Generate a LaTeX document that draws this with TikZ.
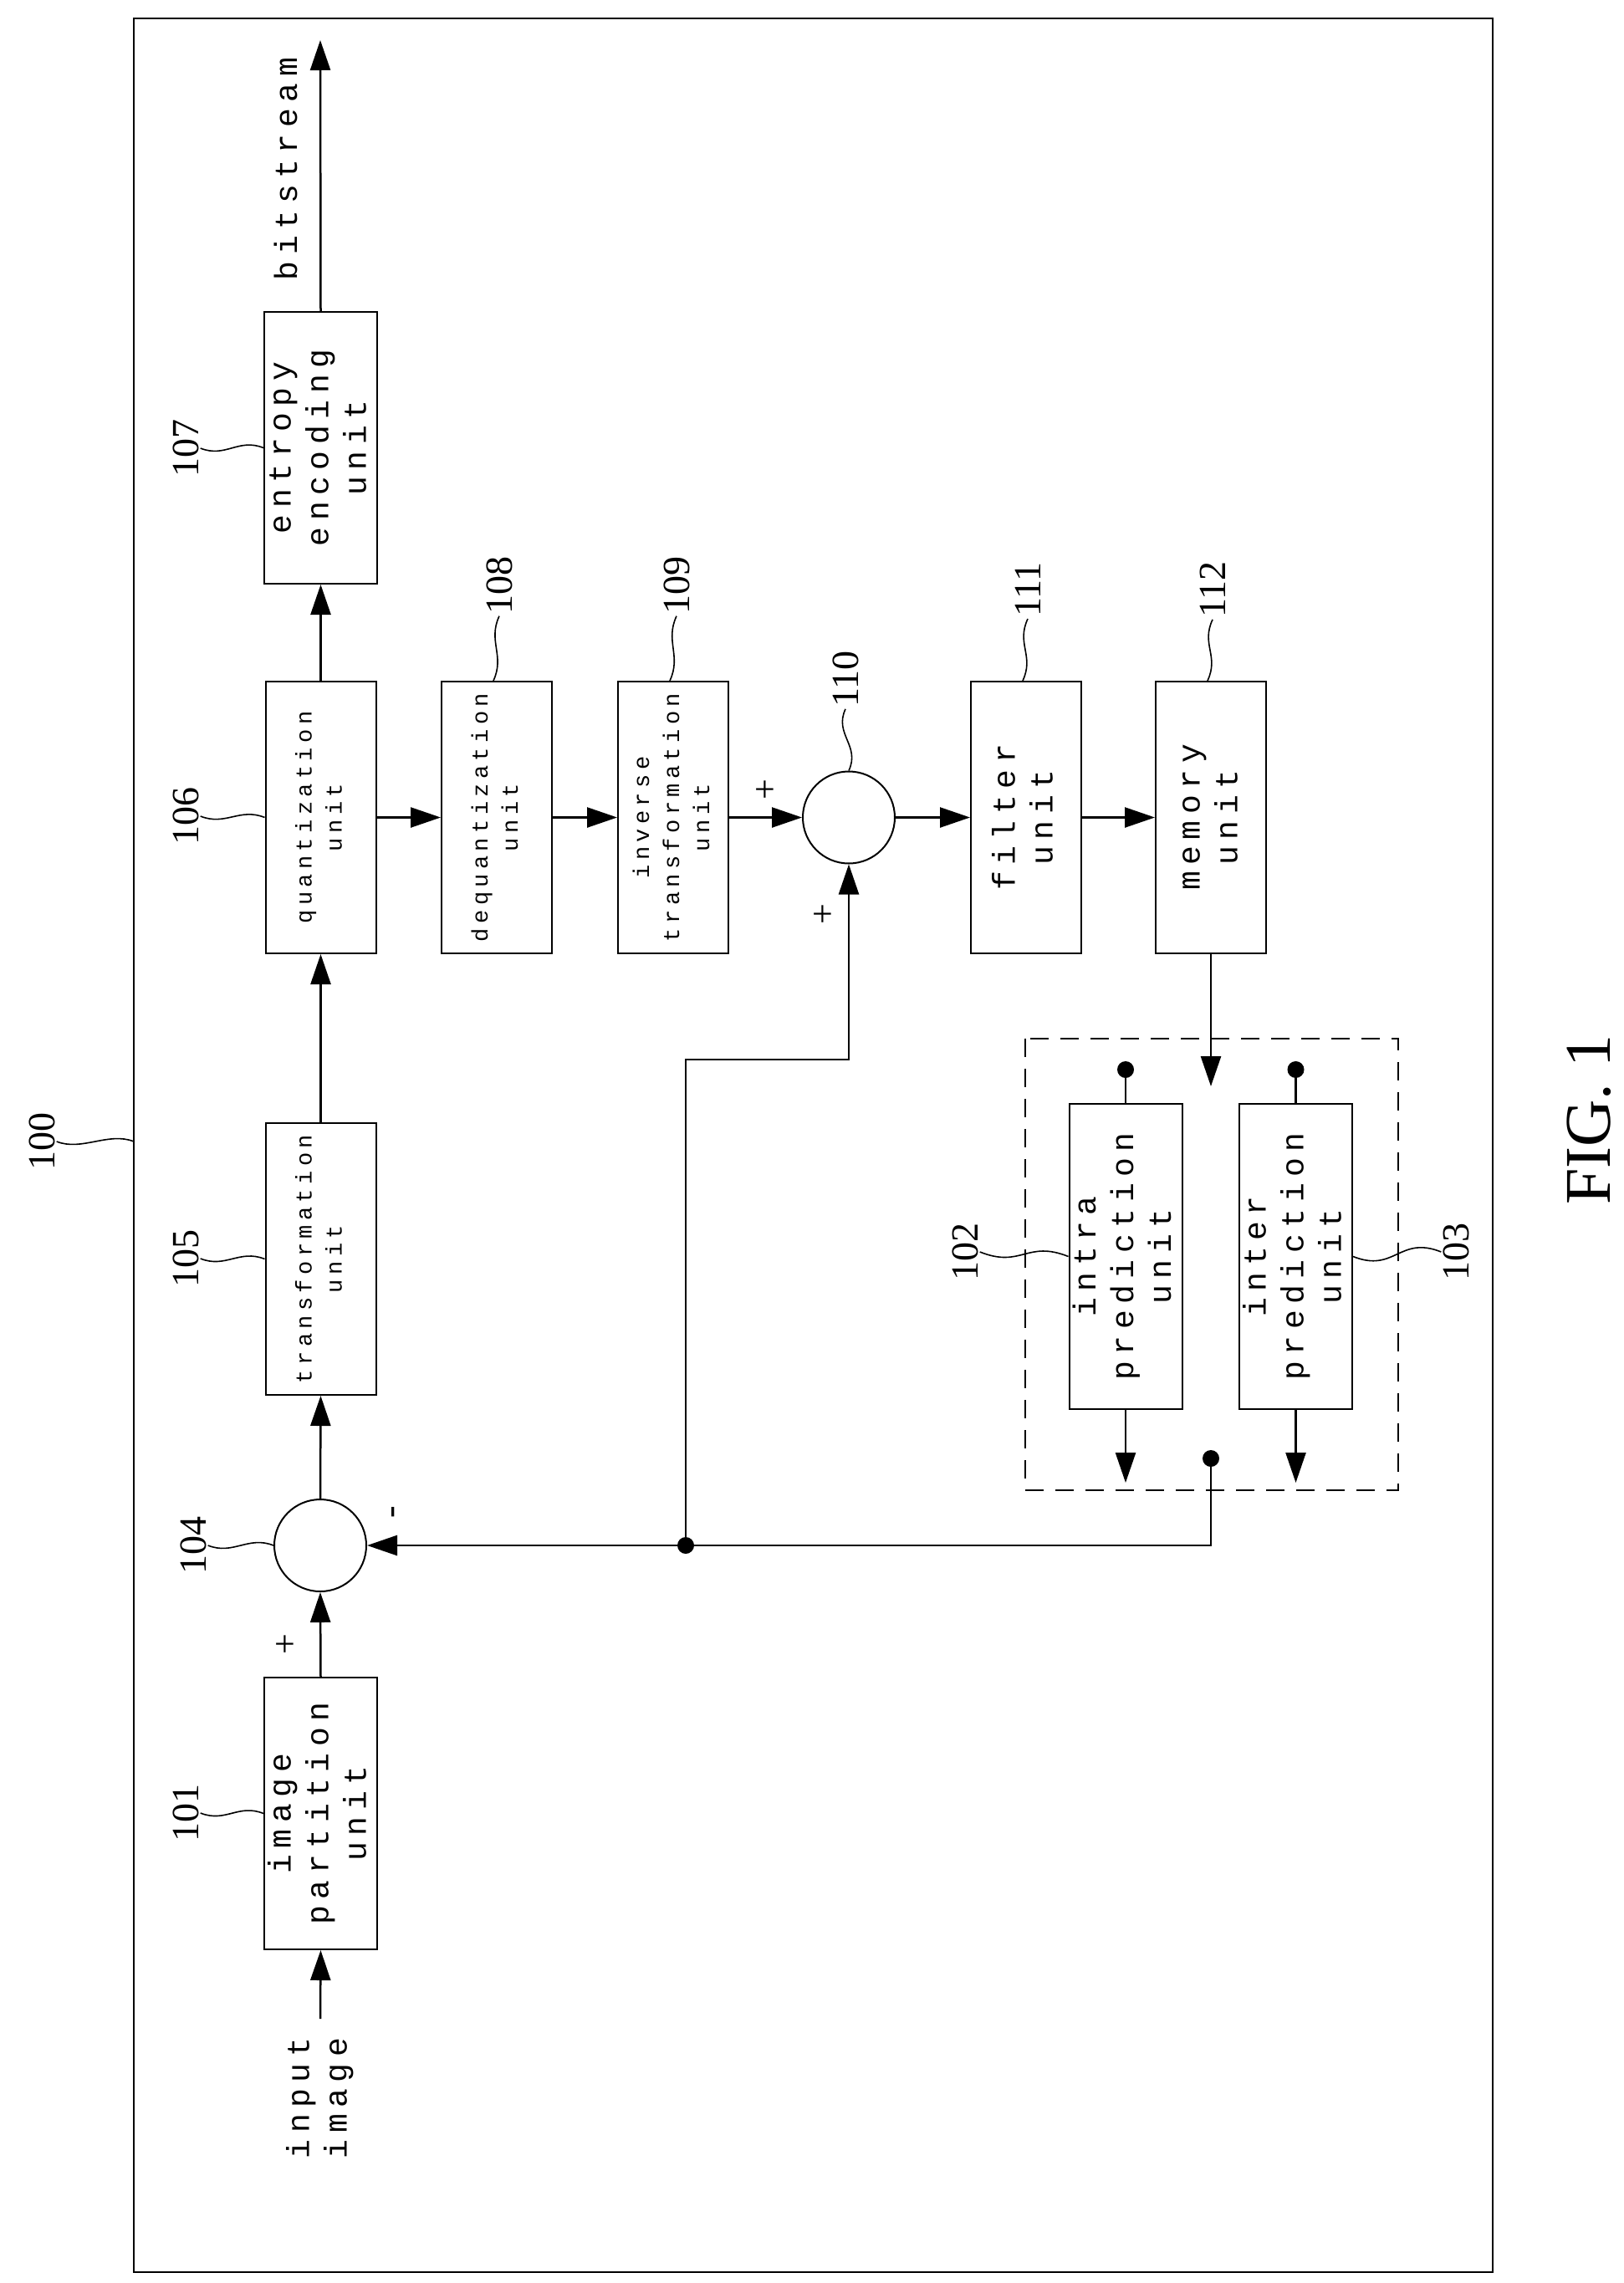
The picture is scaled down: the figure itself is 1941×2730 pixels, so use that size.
\documentclass[tikz,border=0pt]{standalone}
\usepackage{fontspec}
\usepackage{graphicx}
\setmainfont{Liberation Serif}
\newfontfamily\boxfont[LetterSpace=20]{Liberation Mono}
\usetikzlibrary{arrows.meta}
\newcommand{\vlab}[1]{\rotatebox{90}{\begin{tabular}{@{}c@{}}#1\end{tabular}}}
\tikzset{
  box/.style={draw, line width=2pt, minimum width=132pt, inner sep=0pt,
    font=\boxfont\fontsize{38}{45}\selectfont},
  smallbox/.style={box, font=\boxfont\fontsize{27}{36}\selectfont},
  sum/.style={draw, line width=2pt, circle, minimum size=110pt, inner sep=0pt},
  ref/.style={font=\fontsize{46}{50}\selectfont, rotate=90, inner sep=2pt},
  sgn/.style={font=\fontsize{44}{44}\selectfont, rotate=90, inner sep=0pt},
  flow/.style={line width=2.5pt, -{Triangle[length=36pt,width=24pt]}},
  wire/.style={line width=2.5pt},
  lead/.style={line width=1.6pt},
  dot/.style={circle, fill, inner sep=0pt, minimum size=20pt}
}
\begin{document}
\begin{tikzpicture}[x=1pt, y=-1pt]
\useasboundingbox (0,0) rectangle (1941,2730);
\draw[line width=2pt] (160,22) rectangle (1785,2717);

% main column
\node[box, minimum height=325pt] (b101) at (383.5,2168.5) {\vlab{image\\partition\\unit}};
\node[sum] (s104) at (383,1848) {};
\node[smallbox, minimum height=325pt] (b105) at (383.5,1505.5) {\vlab{transformation\\unit}};
\node[smallbox, minimum height=325pt] (b106) at (383.5,977.5) {\vlab{quantization\\unit}};
\node[box, minimum height=325pt] (b107) at (383.5,535.5) {\vlab{entropy\\encoding\\unit}};

% reconstruction row
\node[smallbox, minimum height=325pt] (b108) at (594,977.5) {\vlab{dequantization\\unit}};
\node[smallbox, minimum height=325pt] (b109) at (805,977.5) {\vlab{inverse\\transformation\\unit}};
\node[sum] (s110) at (1015,977.5) {};
\node[box, minimum height=325pt] (b111) at (1227,977.5) {\vlab{filter\\unit}};
\node[box, minimum height=325pt] (b112) at (1448,977.5) {\vlab{memory\\unit}};

% prediction
\draw[line width=2pt, dash pattern=on 22pt off 14pt] (1226,1242) rectangle (1672,1782);
\node[box, minimum height=365pt] (b102) at (1346,1502.5) {\vlab{intra\\prediction\\unit}};
\node[box, minimum height=365pt] (b103) at (1549.5,1502.5) {\vlab{inter\\prediction\\unit}};
\node[dot] (d102) at (1346,1279) {};
\node[dot] (d103) at (1549.5,1279) {};
\node[dot] (dsel) at (1448,1744) {};
\node[dot] (dtap) at (820,1848) {};
\coordinate (in112) at (1448,1299);
\coordinate (o102) at (1346,1773);
\coordinate (o103) at (1549.5,1773);
\coordinate (up) at (820,1267);
\coordinate (in110) at (1015,1267);
\coordinate (src) at (383,2414);
\coordinate (dst) at (383,48);

% texts
\node[box, draw=none, rotate=0] (tin) at (383,2509) {\vlab{input\\image}};
\node[box, draw=none] (tout) at (346,202) {\vlab{bitstream}};
\node[sgn] (p104) at (343,1966) {+};
\node[sgn] (m104) at (474,1808) {-};
\node[sgn] (p110a) at (917,944) {+};
\node[sgn] (p110b) at (986,1093) {+};
\node[font=\fontsize{78}{80}\selectfont, rotate=90] (fig) at (1900,1339) {FIG. 1};

% reference numerals
\node[ref] (n100) at (50,1365) {100};
\node[ref] (n101) at (222,2168) {101};
\node[ref] (n104) at (231,1848) {104};
\node[ref] (n105) at (222,1505) {105};
\node[ref] (n106) at (222,976) {106};
\node[ref] (n107) at (222,536) {107};
\node[ref] (n108) at (597,700) {108};
\node[ref] (n109) at (809,700) {109};
\node[ref] (n110) at (1011,812) {110};
\node[ref] (n111) at (1229,705) {111};
\node[ref] (n112) at (1450,705) {112};
\node[ref] (n102) at (1154,1497) {102};
\node[ref] (n103) at (1741,1497) {103};

% leaders
\draw[lead] (n100.south) .. controls +(30,12) and +(-30,-12) .. (160,1365);
\draw[lead] (n101.south) .. controls +(30,12) and +(-30,-12) .. (b101.west);
\draw[lead] (n104.south) .. controls +(30,12) and +(-30,-12) .. (s104.west);
\draw[lead] (n105.south) .. controls +(30,12) and +(-30,-12) .. (b105.west);
\draw[lead] (n106.south) .. controls +(30,12) and +(-30,-12) .. (b106.west);
\draw[lead] (n107.south) .. controls +(30,12) and +(-30,-12) .. (b107.west);
\draw[lead] (n102.south) .. controls +(50,20) and +(-50,-20) .. (b102.west);
\draw[lead] (b103.east) .. controls +(50,20) and +(-50,-20) .. (n103.north);
\draw[lead] (n108.west) .. controls +(-14,30) and +(14,-30) .. ([xshift=-4pt]b108.north);
\draw[lead] (n109.west) .. controls +(-14,30) and +(14,-30) .. ([xshift=-4pt]b109.north);
\draw[lead] (n110.west) .. controls +(-14,30) and +(14,-30) .. (s110.north);
\draw[lead] (n111.west) .. controls +(-14,30) and +(14,-30) .. ([xshift=-4pt]b111.north);
\draw[lead] (n112.west) .. controls +(-14,30) and +(14,-30) .. ([xshift=-4pt]b112.north);

% connectors
\draw[flow] (src) -- (b101.south);
\draw[flow] (b101.north) -- (s104.south);
\draw[flow] (s104.north) -- (b105.south);
\draw[flow] (b105.north) -- (b106.south);
\draw[flow] (b106.north) -- (b107.south);
\draw[flow] (b107.north) -- (dst);
\draw[flow] (b106.east) -- (b108.west);
\draw[flow] (b108.east) -- (b109.west);
\draw[flow] (b109.east) -- (s110.west);
\draw[flow] (s110.east) -- (b111.west);
\draw[flow] (b111.east) -- (b112.west);
\draw[flow] (b112.south) -- (in112);
\draw[wire] (d102) -- (b102.north);
\draw[wire] (d103) -- (b103.north);
\draw[flow] (b102.south) -- (o102);
\draw[flow] (b103.south) -- (o103);
\draw[flow] (dsel) |- (s104.east);
\draw[flow] (dtap) -- (up) -- (in110) -- (s110.south);
\end{tikzpicture}
\end{document}
